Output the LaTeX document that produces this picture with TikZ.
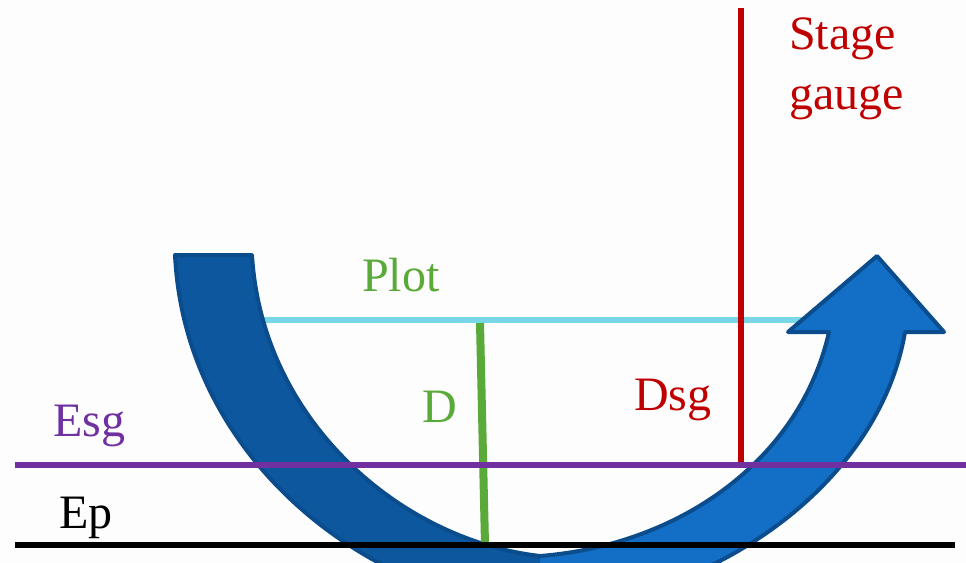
\documentclass[tikz,border=0pt]{standalone}
\usepackage{fontspec}
\setmainfont{Liberation Serif}
\definecolor{bgc}{HTML}{FDFDFD}
\definecolor{cyanl}{HTML}{78D8E6}
\definecolor{greenl}{HTML}{5AAA3A}
\definecolor{redl}{HTML}{C00000}
\definecolor{purplel}{HTML}{7030A0}
\definecolor{blueL}{HTML}{0C579E}
\definecolor{blueR}{HTML}{136FC5}
\definecolor{blueO}{HTML}{0A4C8C}
\newcommand{\myarrowpath}{(175,255) -- (252,255)
  .. controls (262,420) and (400,540) .. (540,556)
  .. controls (680,545) and (800,460) .. (829,332)
  -- (788,332) -- (877,256) -- (944,332) -- (905,332)
  .. controls (880,480) and (720,600) .. (540,610)
  .. controls (370,600) and (185,460) .. (175,255) -- cycle}
\tikzset{
  lbl/.style={font=\fontsize{36}{43}\selectfont, inner sep=0pt, anchor=base west},
  ln/.style={line width=5pt},
}
\begin{document}
\begin{tikzpicture}[x=0.75pt,y=-0.75pt]
\useasboundingbox (0,0) rectangle (966,563);
\clip (0,0) rectangle (966,563);
\fill[bgc] (0,0) rectangle (966,563);
% coordinates
\coordinate (cyanA) at (262,320);
\coordinate (cyanB) at (840,320);
\coordinate (grT) at (480,323);
\coordinate (grB) at (485,545);
\coordinate (rdT) at (741,8);
\coordinate (rdB) at (741,465);
\coordinate (puA) at (15,465);
\coordinate (puB) at (966,465);
\coordinate (bkA) at (15,545);
\coordinate (bkB) at (955,545);
% cyan line behind the arrow
\draw[ln, cyanl] (cyanA) -- (cyanB);
% arrow
\fill[blueR] \myarrowpath;
\begin{scope}
  \clip (0,0) rectangle (540,563);
  \fill[blueL] \myarrowpath;
\end{scope}
\draw[blueO, line width=3pt, line join=round] \myarrowpath;
% lines on top
\draw[line width=6pt, greenl] (grT) -- (grB);
\draw[ln, redl] (rdT) -- (rdB);
\draw[ln, purplel] (puA) -- (puB);
\draw[line width=4.5pt, black] (bkA) -- (bkB);
% labels
\node[lbl, text=redl] (stage) at (789,50) {Stage};
\node[lbl, text=redl] (gauge) at (789,110) {gauge};
\node[lbl, text=greenl] (plot) at (362,291) {Plot};
\node[lbl, text=greenl] (dlab) at (422,422) {D};
\node[lbl, text=redl] (dsg) at (634,410) {Dsg};
\node[lbl, text=purplel] (esg) at (53,436) {Esg};
\node[lbl, text=black] (ep) at (59,528) {Ep};
\end{tikzpicture}
\end{document}
